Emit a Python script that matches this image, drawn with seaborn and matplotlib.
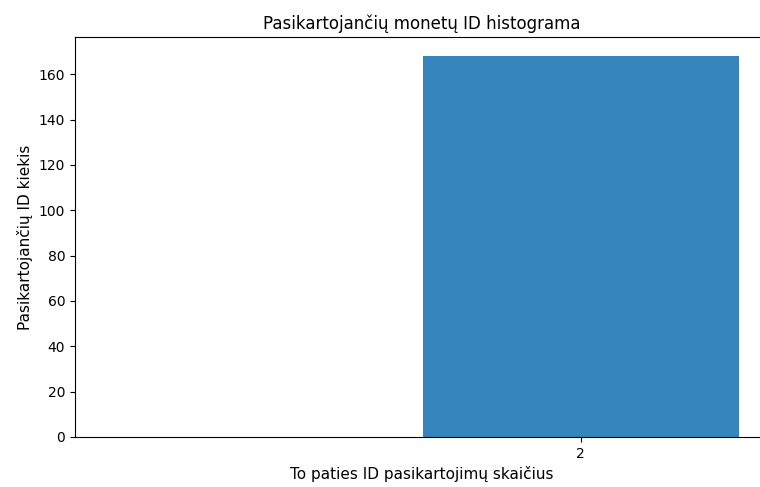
import numpy as np
import pandas as pd
import matplotlib
matplotlib.use('Agg')
import matplotlib.pyplot as plt
import seaborn as sns

# Duomenys: kiek kartu kartojasi ID ir kiek tokiu ID yra
pasikartojimai = [2]
id_kiekis = [168]

df = pd.DataFrame({'pasikartojimai': pasikartojimai, 'kiekis': id_kiekis})

fig = plt.figure(figsize=(7.6, 4.87), dpi=100)
# asis siek tiek iseina uz paveikslo desinio krasto, kaip originale
ax = fig.add_axes([75 / 760, 1 - 437 / 487, 694 / 760, 400 / 487])

sns.histplot(data=df, x='pasikartojimai', weights='kiekis', discrete=True,
             color='#3584bb', alpha=1, linewidth=0, ax=ax)

ax.set_xlim(0.4, 2.596)
ax.set_ylim(0, max(id_kiekis) * 1.05)
ax.set_xticks(pasikartojimai)
ax.set_xticklabels([str(v) for v in pasikartojimai])
ax.set_yticks(np.arange(0, 161, 20))
ax.spines['right'].set_visible(False)

ax.set_title('Pasikartojančių monetų ID histograma', fontsize=12)
ax.set_xlabel('To paties ID pasikartojimų skaičius', fontsize=11)
ax.set_ylabel('Pasikartojančių ID kiekis', fontsize=11)

fig.savefig('out.png', dpi=100)
